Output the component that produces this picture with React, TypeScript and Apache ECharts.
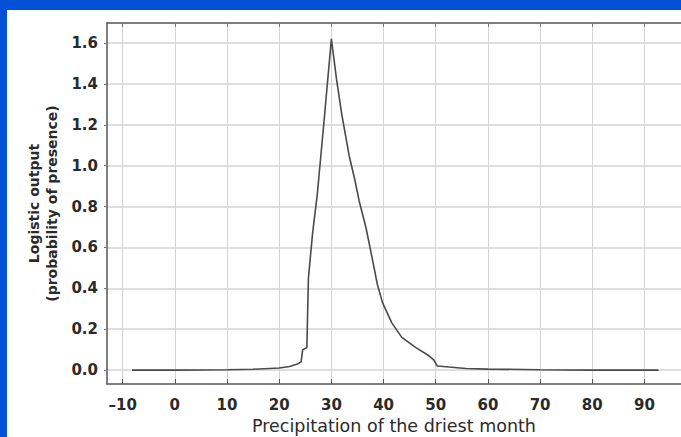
import React, { useEffect, useRef } from "react";
import * as echarts from "echarts";

const precipitation = [-8.2, 0, 10, 15, 20, 22, 23.5, 24.2, 24.5, 25.3, 25.6, 26.4, 27.3, 28.6, 30.0, 31.0, 32.0, 33.4, 34.5, 35.3, 36.6, 37.8, 38.8, 39.8, 41.6, 43.5, 46.2, 48.7, 49.6, 50.3, 52.5, 55.8, 60, 70, 80, 92.7];
const logisticOutput = [0, 0, 0.002, 0.004, 0.01, 0.018, 0.03, 0.04, 0.1, 0.11, 0.45, 0.67, 0.86, 1.22, 1.62, 1.42, 1.25, 1.05, 0.93, 0.83, 0.70, 0.55, 0.42, 0.33, 0.23, 0.16, 0.11, 0.07, 0.05, 0.02, 0.015, 0.008, 0.005, 0.002, 0, 0];
const xTicks = [-10, 0, 10, 20, 30, 40, 50, 60, 70, 80, 90];
const yTicks = [0, 0.2, 0.4, 0.6, 0.8, 1.0, 1.2, 1.4, 1.6];
const xTitle = "Precipitation of the driest month";
const yTitle = "Logistic output\n(probability of presence)";

export default function App() {
  const ref = useRef<HTMLDivElement>(null);
  useEffect(() => {
    if (!ref.current) return;
    const chart = echarts.init(ref.current, null, { renderer: "svg" });
    const font = "'DejaVu Sans', sans-serif";
    const data = precipitation.map((x, i) => [x, logisticOutput[i]]);
    chart.setOption({
      animation: false,
      backgroundColor: "#ffffff",
      grid: { left: 100, top: 13, right: 0, bottom: 53, containLabel: false, outerBoundsMode: "none" },
      xAxis: [
        {
          type: "value",
          min: -13,
          max: 97,
          position: "bottom",
          axisLine: { show: true, onZero: false, lineStyle: { color: "#555", width: 1.5 } },
          axisTick: { show: true, inside: true, length: 5, customValues: xTicks, lineStyle: { color: "#555" } },
          axisLabel: {
            customValues: xTicks,
            margin: 13,
            fontFamily: font,
            fontSize: 15,
            fontWeight: "bold",
            color: "#2a2a2a",
            formatter: (v: number) => (v < 0 ? "\u2013" + Math.abs(v) : String(v)),
          },
          splitLine: { show: true, lineStyle: { color: "#d4d4d4", width: 1 } },
          name: xTitle,
          nameLocation: "middle",
          nameGap: 32,
          nameTextStyle: { fontFamily: font, fontSize: 17.5, color: "#2a2a2a" },
        },
        {
          type: "value",
          min: -13,
          max: 97,
          position: "top",
          axisLine: { show: true, onZero: false, lineStyle: { color: "#555", width: 1.5 } },
          axisTick: { show: true, inside: true, length: 4, customValues: xTicks, lineStyle: { color: "#777" } },
          axisLabel: { show: false },
          splitLine: { show: false },
        },
      ],
      yAxis: {
        type: "value",
        min: -0.068,
        max: 1.698,
        axisLine: { show: true, onZero: false, lineStyle: { color: "#555", width: 1.5 } },
        axisTick: { show: true, inside: false, length: 3, customValues: yTicks, lineStyle: { color: "#777" } },
        axisLabel: {
          customValues: yTicks,
          margin: 9,
          fontFamily: font,
          fontSize: 15,
          fontWeight: "bold",
          color: "#2a2a2a",
          formatter: (v: number) => v.toFixed(1),
        },
        splitLine: { show: true, lineStyle: { color: "#d4d4d4", width: 1.5 } },
        name: yTitle,
        nameLocation: "middle",
        nameGap: 41,
        nameRotate: 90,
        nameTextStyle: { fontFamily: font, fontSize: 14, fontWeight: "bold", color: "#2a2a2a", lineHeight: 18, align: "center" },
      },
      series: [
        {
          type: "line",
          xAxisIndex: 0,
          data,
          showSymbol: false,
          symbol: "none",
          lineStyle: { color: "#4a4a4a", width: 1.6 },
        },
      ],
    });
    return () => chart.dispose();
  }, []);
  return (
    <div style={{ position: "fixed", left: 0, top: 0, width: 681, height: 437, background: "#0450d6" }}>
      <div ref={ref} style={{ position: "absolute", left: 7, top: 10, width: 674, height: 427 }} />
    </div>
  );
}
